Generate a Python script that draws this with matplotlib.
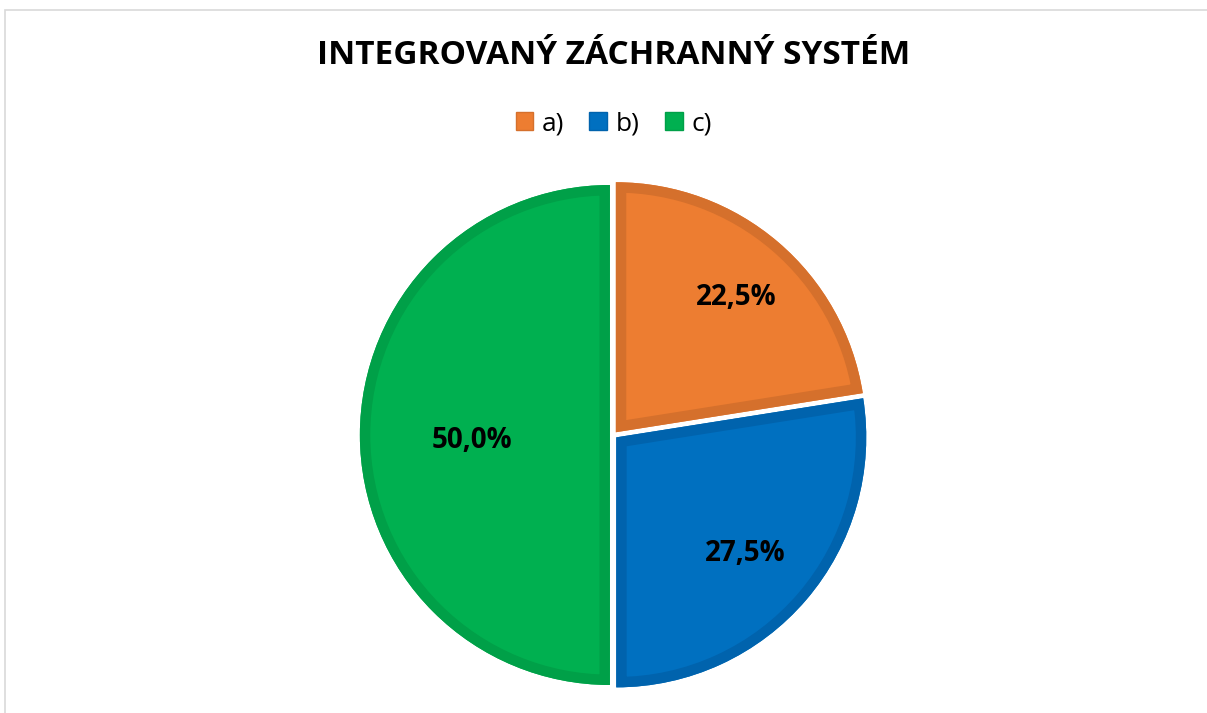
import numpy as np
import matplotlib
matplotlib.use("Agg")
import matplotlib.pyplot as plt
from matplotlib.patches import Rectangle, Wedge

# data
categories = ["a)", "b)", "c)"]
shares = [22.5, 27.5, 50.0]
label_texts = ["22,5%", "27,5%", "50,0%"]
title = "INTEGROVANÝ ZÁCHRANNÝ SYSTÉM"

face_colors = ["#ED7D31", "#0070C0", "#00B050"]
edge_colors = ["#D5702C", "#0063AD", "#00A048"]
label_radius = [0.74, 0.68, 0.55]

plt.rcParams['font.family'] = ['Open Sans', 'DejaVu Sans']

fig = plt.figure(figsize=(12.07, 7.13), dpi=100)

# light grey chart border (top and left visible)
fig.add_artist(Rectangle((4.5 / 1207, -0.1), 1.2, 1 - 10.5 / 713 + 0.1,
                         transform=fig.transFigure, fill=False,
                         edgecolor="#D9D9D9", linewidth=1.2))

# pie axes: centre ~ (613.5, 435) px, radius 250 px
cx, cy, half = 613.5, 713 - 435, 260
ax = fig.add_axes([(cx - half) / 1207, (cy - half) / 713, 2 * half / 1207, 2 * half / 713])
wedges, _ = ax.pie(shares, startangle=90, counterclock=False,
                   colors=face_colors, explode=[0.0145] * 3,
                   wedgeprops=dict(linewidth=0))

# darker inner border: a thick edge clipped by the slice itself
for w, ec in zip(wedges, edge_colors):
    rim = Wedge(w.center, w.r, w.theta1, w.theta2, facecolor="none",
                edgecolor=ec, linewidth=15, joinstyle="miter")
    ax.add_patch(rim)
    rim.set_clip_path(w.get_path(), w.get_transform())

ax.set_xlim(-half / 250, half / 250)
ax.set_ylim(-half / 250, half / 250)
ax.set_aspect("equal")
ax.axis("off")

for w, txt, r in zip(wedges, label_texts, label_radius):
    ang = np.deg2rad((w.theta1 + w.theta2) / 2)
    x0, y0 = w.center
    ax.text(x0 + r * np.cos(ang), y0 + r * np.sin(ang) - 0.022, txt,
            ha="center", va="center", fontsize=20, fontweight="bold", color="black")

fig.text(cx / 1207, 1 - 55 / 713, title, ha="center", va="center",
         fontsize=24, fontweight="bold", color="black")

handles = [plt.Rectangle((0, 0), 1, 1, facecolor=c, edgecolor=ec)
           for c, ec in zip(face_colors, edge_colors)]
fig.legend(handles, categories, loc="center", bbox_to_anchor=(cx / 1207, 1 - 124 / 713),
           ncol=3, frameon=False, fontsize=19, handlelength=0.68, handleheight=0.68,
           handletextpad=0.32, columnspacing=0.95)

fig.savefig("out.png", dpi=100, facecolor="white")
